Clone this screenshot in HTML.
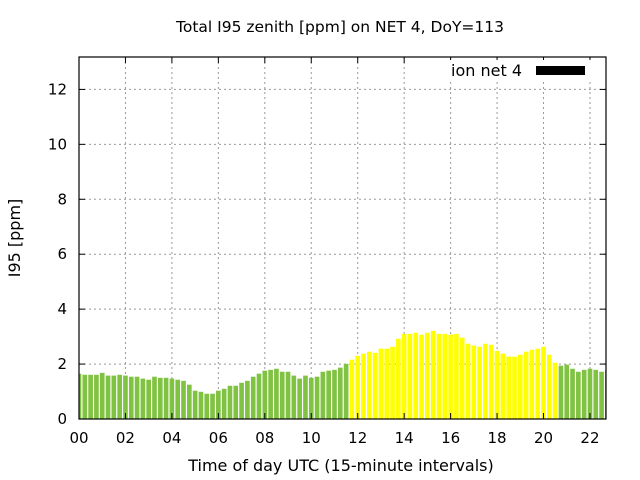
<!DOCTYPE html>
<html><head><meta charset="utf-8"><style>
html,body{margin:0;padding:0;background:#fff}
svg{display:block;font-family:"DejaVu Sans","Liberation Sans",sans-serif}
</style></head><body>
<svg id="chart" width="640" height="480">
<text x="340" y="32" text-anchor="middle" font-size="15.5">Total I95 zenith [ppm] on NET 4, DoY=113</text>
<g id="grid"></g>
<g id="bars"></g>
<rect x="79" y="57" width="527" height="362" fill="none" stroke="#000" stroke-width="1.2"/>
<g id="ticks"></g>
<rect x="445" y="60" width="150" height="20" fill="#fff"/>
<text x="522" y="76" text-anchor="end" font-size="16">ion net 4</text>
<rect x="536" y="66" width="49" height="9" fill="#000"/>
<text x="341" y="471" text-anchor="middle" font-size="16">Time of day UTC (15-minute intervals)</text>
<text transform="translate(20,238) rotate(-90)" text-anchor="middle" font-size="16">I95 [ppm]</text>
</svg>
<script>
const values=[1.65,1.61,1.61,1.61,1.68,1.58,1.58,1.61,1.58,1.54,1.54,1.47,1.43,1.54,1.50,1.50,1.47,1.43,1.39,1.25,1.03,0.99,0.92,0.92,1.03,1.10,1.21,1.21,1.32,1.39,1.54,1.65,1.76,1.79,1.83,1.72,1.72,1.58,1.47,1.58,1.50,1.54,1.72,1.76,1.79,1.87,2.01,
2.16,2.30,2.38,2.45,2.41,2.56,2.56,2.63,2.92,3.10,3.10,3.14,3.07,3.14,3.21,3.10,3.10,3.07,3.10,2.96,2.74,2.67,2.63,2.74,2.70,2.48,2.38,2.27,2.27,2.34,2.45,2.52,2.56,2.63,2.34,2.05,
1.94,1.98,1.83,1.72,1.79,1.83,1.79,1.72,1.79];
const yellowStart=47, yellowEnd=82;
const xTicks=["00","02","04","06","08","10","12","14","16","18","20","22"];
const yTicks=[0,2,4,6,8,10,12];
const NS="http://www.w3.org/2000/svg";
const X0=79,X1=606,Y0=419,Y1=57,XMAX=22.69,YMAX=13.18;
const xs=h=>X0+h/XMAX*(X1-X0);
const ys=v=>Y0-v/YMAX*(Y0-Y1);
function mk(t,a,p){const e=document.createElementNS(NS,t);for(const k in a)e.setAttribute(k,a[k]);p.appendChild(e);return e;}
const grid=document.getElementById('grid'),bars=document.getElementById('bars'),ticks=document.getElementById('ticks');
const clip=mk('clipPath',{id:'pc'},document.getElementById('chart'));
mk('rect',{x:X0,y:Y1,width:X1-X0,height:Y0-Y1},clip);
bars.setAttribute('clip-path','url(#pc)');
values.forEach((v,i)=>{
  const h=i*0.25, w=(xs(0.25)-xs(0))*0.8;
  const r=mk('rect',{x:xs(h)-w/2,y:ys(v),width:w,height:ys(0)-ys(v),fill:(i>=yellowStart&&i<=yellowEnd)?'#ffff00':'#80c242'},bars);
  
  
});
xTicks.forEach(t=>{
  const x=xs(parseInt(t,10));
  if(x>X0+1) mk('line',{x1:x,y1:Y1,x2:x,y2:Y0,stroke:'#999','stroke-dasharray':'2,3'},grid);
  mk('line',{x1:x,y1:Y0,x2:x,y2:Y0-6,stroke:'#000'},ticks);
  mk('line',{x1:x,y1:Y1,x2:x,y2:Y1+6,stroke:'#000'},ticks);
  const l=mk('text',{x:x,y:Y0+24,'text-anchor':'middle','font-size':15},ticks);l.textContent=t;
  
  
});
yTicks.forEach(t=>{
  const y=ys(t);
  if(t>0) mk('line',{x1:X0,y1:y,x2:X1,y2:y,stroke:'#999','stroke-dasharray':'2,3'},grid);
  mk('line',{x1:X0,y1:y,x2:X0+6,y2:y,stroke:'#000'},ticks);
  mk('line',{x1:X1,y1:y,x2:X1-6,y2:y,stroke:'#000'},ticks);
  const l=mk('text',{x:X0-12,y:y+5,'text-anchor':'end','font-size':15},ticks);l.textContent=t;
  
  
});
</script>
</body></html>
